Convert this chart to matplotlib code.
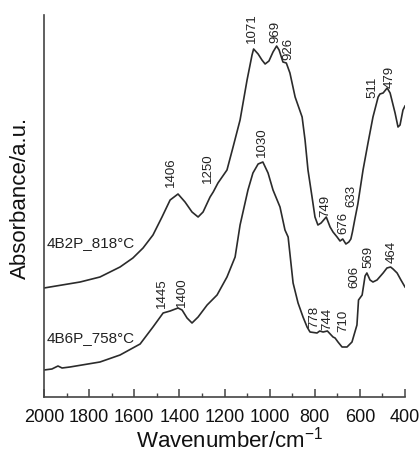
import matplotlib
matplotlib.use("Agg")
import matplotlib.pyplot as plt
from matplotlib.ticker import MultipleLocator

plt.rcParams['font.family'] = ['Liberation Sans', 'DejaVu Sans']
plt.rcParams['mathtext.fontset'] = 'custom'
plt.rcParams['mathtext.rm'] = 'Liberation Sans'
plt.rcParams['mathtext.it'] = 'Liberation Sans'

# ---- data (wavenumber / cm-1, absorbance a.u.) ----
wn_818 = [2000, 1840, 1752, 1663, 1606, 1561, 1517, 1477, 1441, 1406, 1375, 1344,
          1317, 1295, 1264, 1250, 1229, 1189, 1162, 1131, 1100, 1078, 1071, 1051,
          1034, 1020, 1003, 985, 969, 958, 941, 926, 910, 887, 856, 843, 830, 812,
          799, 786, 772, 749, 732, 719, 701, 688, 676, 662, 649, 640, 633, 623,
          609, 586, 564, 542, 519, 511, 497, 479, 466, 444, 431, 422, 409, 400]
ab_818 = [109, 115, 120, 130, 139, 149, 162, 180, 197, 203, 195, 185,
          180, 185, 200, 205, 214, 227, 250, 277, 317, 342, 348, 343,
          337, 333, 336, 345, 351, 347, 335, 334, 324, 300, 280, 257, 227, 200,
          180, 172, 174, 180, 170, 165, 160, 156, 158, 153, 155, 158, 165, 177,
          193, 227, 254, 280, 300, 303, 304, 309, 304, 284, 270, 272, 287, 291]

wn_758 = [2000, 1965, 1938, 1920, 1885, 1752, 1663, 1574, 1517, 1472, 1441,
          1406, 1388, 1366, 1344, 1317, 1277, 1233, 1189, 1153, 1131,
          1096, 1074, 1051, 1030, 1007, 985, 954, 932, 918, 896, 874, 852,
          834, 821, 790, 778, 763, 744, 719, 710, 697, 679, 657, 635, 613, 606,
          590, 577, 569, 555, 542, 524, 497, 480, 464, 453, 435, 418, 400]
ab_758 = [27, 28, 31, 29, 30, 35, 42, 53, 70, 84, 86,
          89, 87, 79, 74, 80, 92, 102, 120, 140, 172,
          207, 224, 233, 235, 224, 207, 190, 167, 160, 114, 94, 80,
          70, 65, 64, 66, 65, 66, 60, 59, 55, 50, 50, 55, 72, 97,
          102, 121, 124, 117, 115, 117, 124, 129, 130, 128, 124, 117, 110]

series_names = ['4B2P_818°C', '4B6P_758°C']

peaks_818 = ['1406', '1250', '1071', '969', '926', '749', '676', '633', '511', '479']
peaks_758 = ['1445', '1400', '1030', '778', '744', '710', '606', '569', '464']

# label placement (x position in cm-1, bottom of text in a.u.)
pos_818 = [(1437, 210), (1273, 214), (1078, 354), (976, 354), (918, 337),
           (754, 180), (675, 163), (639, 190), (546, 299), (466, 309)]
pos_758 = [(1477, 89), (1388, 90), (1034, 240), (801, 69), (744, 67),
           (675, 65), (626, 109), (564, 129), (457, 134)]

line_col = '#2b2b2b'
fig = plt.figure(figsize=(4.2, 4.58), dpi=100)
ax = fig.add_axes([44/420, 1 - 397/458, (405-44)/420, (397-15)/458])

ax.plot(wn_818, ab_818, color=line_col, lw=1.2)
ax.plot(wn_758, ab_758, color=line_col, lw=1.2)

ax.set_xlim(2000, 400)
ax.set_ylim(0, 382)

for t, (x, y) in zip(peaks_818, pos_818):
    ax.text(x, y, t, rotation=90, ha='center', va='bottom', fontsize=9.5, color='#222222')
for t, (x, y) in zip(peaks_758, pos_758):
    ax.text(x, y, t, rotation=90, ha='center', va='bottom', fontsize=9.5, color='#222222')

ax.text(1987, 154, series_names[0], ha='left', va='center', fontsize=11, color='#222222')
ax.text(1987, 59, series_names[1], ha='left', va='center', fontsize=11, color='#222222')

for s in ['top', 'right']:
    ax.spines[s].set_visible(False)
for s in ['left', 'bottom']:
    ax.spines[s].set_color('#444444')
    ax.spines[s].set_linewidth(1.2)

ax.xaxis.set_major_locator(MultipleLocator(200))
ax.xaxis.set_minor_locator(MultipleLocator(100))
ax.tick_params(axis='x', which='major', direction='in', length=5.5, width=1.1,
               color='#444444', labelsize=13, pad=9, labelcolor='#111111')
ax.tick_params(axis='x', which='minor', direction='in', length=3, width=1.0, color='#444444')
ax.set_yticks([])

fig.text(230/420, 1 - 440/458, r'Wavenumber/cm$^{-1}$', ha='center', va='center', fontsize=16, color='#111111')
fig.text(20/420, 1 - 198/458, 'Absorbance/a.u.', ha='center', va='center', rotation=90, fontsize=16, color='#111111')

fig.savefig('out.png', dpi=100)
